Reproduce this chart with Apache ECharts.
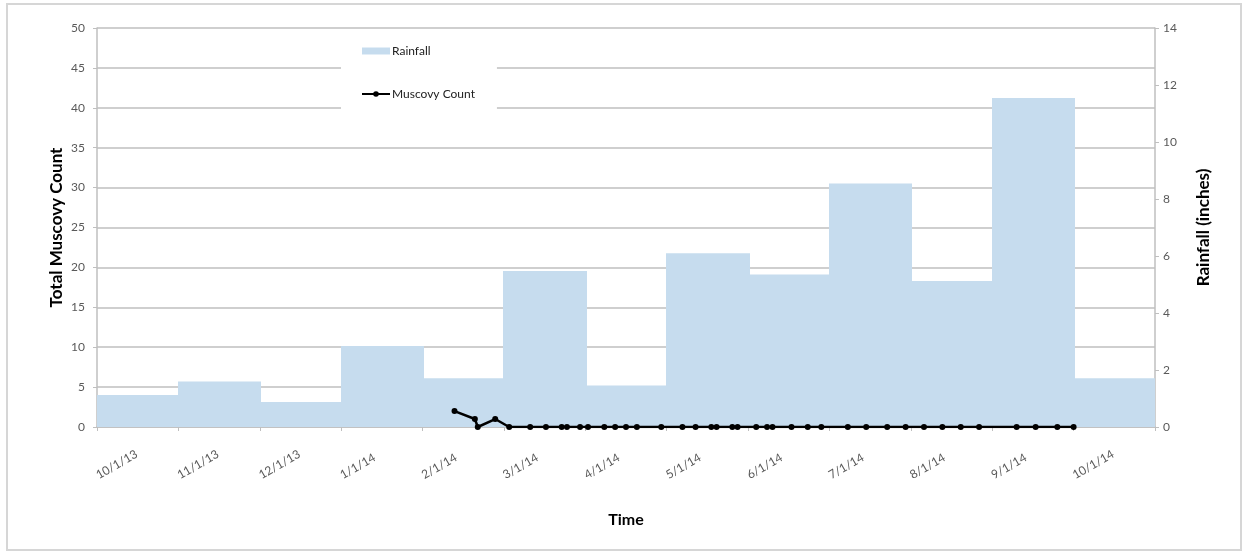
<!DOCTYPE html>
<html>
<head>
<meta charset="utf-8">
<script src="https://cdn.jsdelivr.net/npm/echarts@6/dist/echarts.min.js"></script>
<style>
  html, body { margin: 0; padding: 0; background: #ffffff; }
  #chart { width: 1249px; height: 554px; }
</style>
</head>
<body>
<div id="chart"></div>
<script>
// Month start labels along the time axis (one month per band)
const monthLabels = ['10/1/13', '11/1/13', '12/1/13', '1/1/14', '2/1/14', '3/1/14', '4/1/14',
                     '5/1/14', '6/1/14', '7/1/14', '8/1/14', '9/1/14', '10/1/14'];

// Monthly rainfall totals, inches (one per month above)
const rainfall = [1.12, 1.60, 0.88, 2.84, 1.71, 5.47, 1.46, 6.10, 5.35, 8.54, 5.12, 11.54, 1.71];

// Survey dates and total Muscovy counts
const countDates = ['2014-02-12', '2014-02-19', '2014-02-20', '2014-02-26', '2014-03-03',
                    '2014-03-11', '2014-03-17', '2014-03-23', '2014-03-25', '2014-03-30',
                    '2014-04-02', '2014-04-08', '2014-04-12', '2014-04-16', '2014-04-20',
                    '2014-04-29', '2014-05-07', '2014-05-12', '2014-05-18', '2014-05-20',
                    '2014-05-26', '2014-05-28', '2014-06-04', '2014-06-08', '2014-06-10',
                    '2014-06-17', '2014-06-23', '2014-06-28', '2014-07-08', '2014-07-15',
                    '2014-07-23', '2014-07-30', '2014-08-06', '2014-08-13', '2014-08-20',
                    '2014-08-27', '2014-09-10', '2014-09-17', '2014-09-25', '2014-10-01'];
const countValues = [2, 1, 0, 1, 0,
                     0, 0, 0, 0, 0,
                     0, 0, 0, 0, 0,
                     0, 0, 0, 0, 0,
                     0, 0, 0, 0, 0,
                     0, 0, 0, 0, 0,
                     0, 0, 0, 0, 0,
                     0, 0, 0, 0, 0];

// Axis tick settings
const countMax = 50, countStep = 5;
const rainMax = 14, rainStep = 2;

// Position of a date on the month axis: whole months from Oct 2013 plus the fraction of the month
function monthPos(s) {
  const [y, m, d] = s.split('-').map(Number);
  const dim = new Date(y, m, 0).getDate();
  return (y - 2013) * 12 + (m - 10) + (d - 1) / dim;
}

const FONT = 'Lato, "Open Sans", sans-serif';
const BAR = '#c6dcee';
const GRID = '#bfbfbf';

const chart = echarts.init(document.getElementById('chart'), null, { renderer: 'canvas' });

chart.setOption({
  animation: false,
  backgroundColor: '#ffffff',
  textStyle: { fontFamily: FONT },
  graphic: [{
    type: 'rect',
    shape: { x: 7, y: 4, width: 1234, height: 546 },
    style: { fill: 'none', stroke: '#d6d6d6', lineWidth: 2 },
    z: -10
  }],
  grid: { left: 97, right: 94, top: 28, bottom: 127 },
  legend: {
    orient: 'vertical',
    left: 341,
    top: 34,
    padding: [11, 22, 11, 20],
    backgroundColor: '#ffffff',
    itemWidth: 28,
    itemHeight: 7,
    itemGap: 31,
    textStyle: { fontFamily: FONT, fontSize: 12, color: '#222222', padding: [0, 0, 0, -3] },
    data: [
      { name: 'Rainfall', icon: 'rect' },
      { name: 'Muscovy Count' }
    ]
  },
  xAxis: {
    type: 'value',
    min: 0,
    max: monthLabels.length,
    interval: 1,
    offset: 15,
    name: 'Time',
    nameLocation: 'middle',
    nameGap: 70,
    nameMoveOverlap: false,
    nameTextStyle: { fontFamily: FONT, fontSize: 16, fontWeight: 'bold', color: '#000000' },
    axisLine: { show: true, lineStyle: { color: GRID, width: 1.5 } },
    axisTick: { show: true, length: 4, lineStyle: { color: GRID } },
    splitLine: { show: false },
    axisLabel: {
      rotate: 30,
      align: 'left',
      verticalAlign: 'middle',
      margin: 34,
      fontFamily: FONT,
      fontSize: 12,
      color: '#595959',
      formatter: v => (monthLabels[Math.round(v)] || '')
    }
  },
  yAxis: [{
    type: 'value',
    min: 0,
    max: countMax,
    interval: countStep,
    name: 'Total Muscovy Count',
    nameLocation: 'middle',
    nameGap: 32,
    nameMoveOverlap: false,
    nameTextStyle: { fontFamily: FONT, fontSize: 17, fontWeight: 'bold', color: '#000000' },
    axisLine: { show: true, lineStyle: { color: GRID, width: 1.5 } },
    axisTick: { show: true, length: 4, lineStyle: { color: GRID } },
    splitLine: { show: true, lineStyle: { color: GRID, width: 1.5 } },
    axisLabel: { fontFamily: FONT, fontSize: 12, color: '#595959', margin: 12 }
  }, {
    type: 'value',
    min: 0,
    max: rainMax,
    interval: rainStep,
    position: 'right',
    name: 'Rainfall (inches)',
    nameLocation: 'middle',
    nameGap: 40,
    nameMoveOverlap: false,
    nameTextStyle: { fontFamily: FONT, fontSize: 17, fontWeight: 'bold', color: '#000000' },
    axisLine: { show: true, lineStyle: { color: GRID, width: 1.5 } },
    axisTick: { show: true, length: 4, lineStyle: { color: GRID } },
    splitLine: { show: false },
    axisLabel: { fontFamily: FONT, fontSize: 12, color: '#595959', margin: 8 }
  }],
  series: [{
    name: 'Rainfall',
    type: 'custom',
    yAxisIndex: 1,
    itemStyle: { color: BAR },
    encode: { x: 0, y: 1 },
    data: rainfall.map((v, i) => [i, v]),
    renderItem: (params, api) => {
      const i = api.value(0);
      const v = api.value(1);
      const p0 = api.coord([i, 0]);
      const p1 = api.coord([i + 1, v]);
      const x0 = Math.floor(p0[0]);
      const x1 = Math.ceil(p1[0]);
      // overlap neighbouring months by a pixel so no seam shows, except at the last band
      const extra = i < rainfall.length - 1 ? 1 : 0;
      return {
        type: 'rect',
        shape: { x: x0, y: p1[1], width: x1 - x0 + extra, height: p0[1] - p1[1] },
        style: { fill: BAR }
      };
    },
    z: 1
  }, {
    name: 'Muscovy Count',
    type: 'line',
    yAxisIndex: 0,
    data: countDates.map((d, i) => [monthPos(d), countValues[i]]),
    symbol: 'circle',
    symbolSize: 6,
    lineStyle: { color: '#000000', width: 2.5 },
    itemStyle: { color: '#000000' },
    z: 3
  }]
});
</script>
</body>
</html>
